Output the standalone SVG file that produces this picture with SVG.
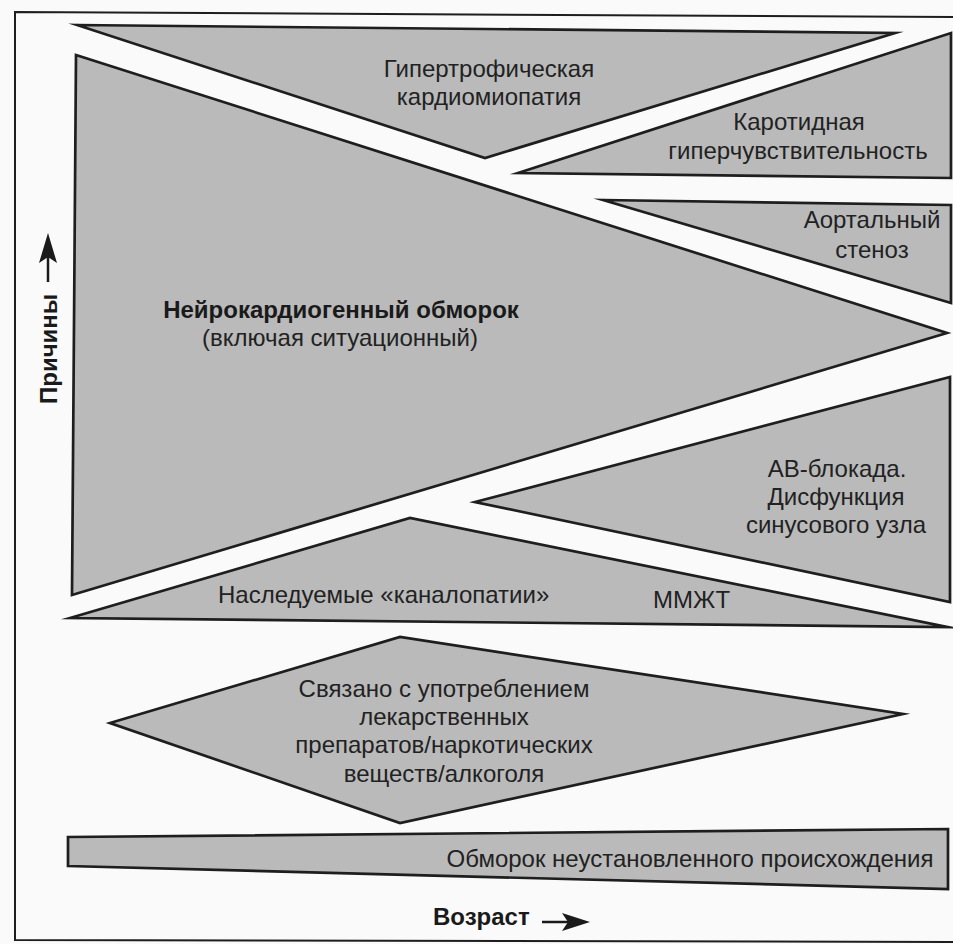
<svg xmlns="http://www.w3.org/2000/svg" width="953" height="944" viewBox="0 0 953 944">
<defs>
<style>
.shape{fill:#bababa;stroke:#1e1e1e;stroke-width:2.7;stroke-linejoin:miter;stroke-miterlimit:20}
.t{font-family:"Liberation Sans",Arial,sans-serif;font-size:24px;fill:#222222;text-anchor:middle}
.s{text-anchor:start}
.b{font-weight:bold;font-size:24px;fill:#1a1a1a}
.frame{fill:none;stroke:#1e1e1e;stroke-width:2}
.ax{stroke:#1a1a1a;stroke-width:2.5;fill:none}
.ah{fill:#1a1a1a;stroke:none}
</style>
</defs>
<rect x="0" y="0" width="953" height="944" fill="#fafafa"/>
<path class="frame" d="M953,17 L15,12 L15,940 L953,942"/>

<g id="neurocardiogenic">
<polygon class="shape" points="76,55 947,333 72,595"/>
<text class="t b" x="341" y="318">Нейрокардиогенный обморок</text>
<text class="t" x="340" y="346">(включая ситуационный)</text>
</g>

<g id="hcm">
<polygon class="shape" points="77,25 895,33 485,158"/>
<text class="t" x="489" y="77">Гипертрофическая</text>
<text class="t" x="489" y="105">кардиомиопатия</text>
</g>

<g id="carotid">
<polygon class="shape" points="518,173 951,33 951,178"/>
<text class="t" x="799" y="130">Каротидная</text>
<text class="t" x="798" y="159">гиперчувствительность</text>
</g>

<g id="aortic">
<polygon class="shape" points="603,200 951,205 951,303"/>
<text class="t" x="872" y="228">Аортальный</text>
<text class="t" x="872" y="258">стеноз</text>
</g>

<g id="av-block">
<polygon class="shape" points="475,502 950,377 950,602"/>
<text class="t" x="837" y="477">АВ-блокада.</text>
<text class="t" x="836" y="505">Дисфункция</text>
<text class="t" x="836" y="533">синусового узла</text>
</g>

<g id="channelopathy">
<polygon class="shape" points="70,618 410,518 947,627"/>
<text class="t s" x="218" y="603">Наследуемые «каналопатии»</text>
<text class="t s" x="653" y="608">ММЖТ</text>
</g>

<g id="drug-related">
<polygon class="shape" points="110,723 400,637 903,714 400,823"/>
<text class="t" x="444" y="697">Связано с употреблением</text>
<text class="t" x="444" y="725">лекарственных</text>
<text class="t" x="444" y="753">препаратов/наркотических</text>
<text class="t" x="444" y="782">веществ/алкоголя</text>
</g>

<g id="unknown">
<polygon class="shape" points="68,837 948,829 948,889 68,866"/>
<text class="t" x="690" y="867">Обморок неустановленного происхождения</text>
</g>

<g id="axes">
<text class="t b s" x="433" y="925">Возраст</text>
<line class="ax" x1="542" y1="922" x2="570" y2="922"/>
<path class="ah" d="M590,922 L562,913 L568,922 L562,931 Z"/>
<text class="t b s" transform="translate(57,404) rotate(-90)">Причины</text>
<line class="ax" x1="48" y1="282" x2="48" y2="256"/>
<path class="ah" d="M48,233 L39,263 L48,257 L57,263 Z"/>
</g>
</svg>
